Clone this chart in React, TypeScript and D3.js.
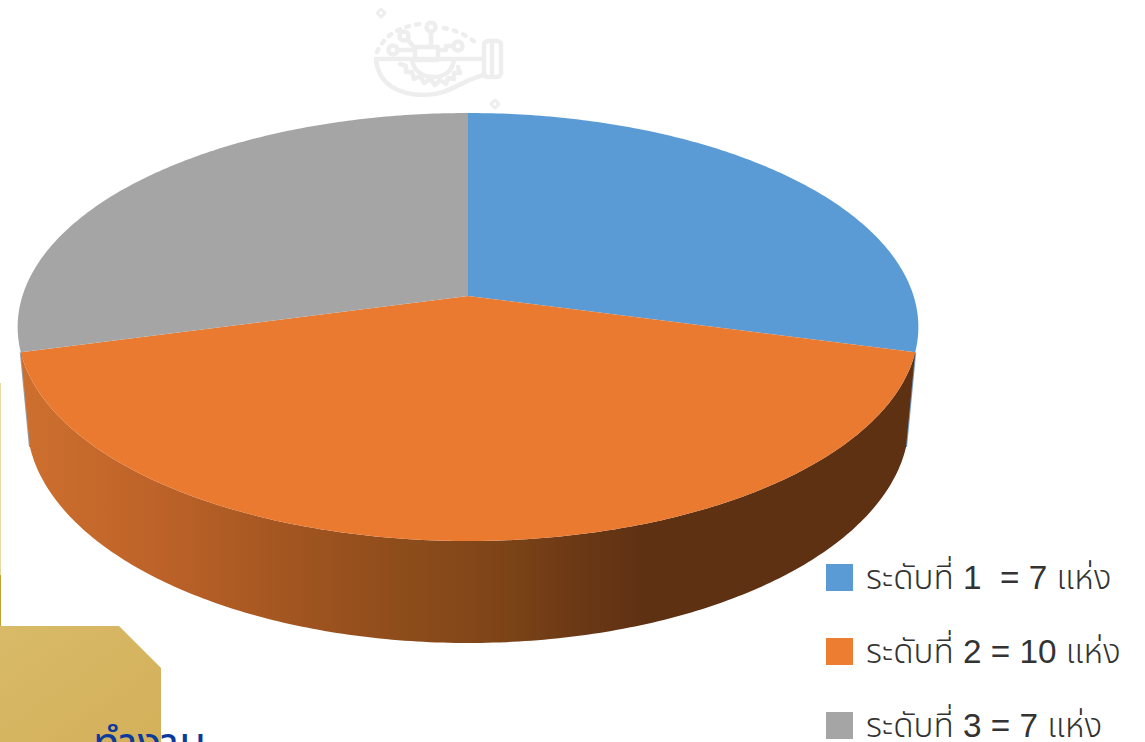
import React from "react";
import * as d3 from "d3";

const categories = ["ระดับที่ 1  = 7 แห่ง", "ระดับที่ 2 = 10 แห่ง", "ระดับที่ 3 = 7 แห่ง"];
const values = [7, 10, 7];
const topColors = ["#5b9bd5", "#ea7a30", "#a5a5a5"];
const legendColors = ["#5b9bd5", "#ed7d31", "#a5a5a5"];
const wallStops: [number, string][] = [
  [0, "#cc6f2e"], [0.14, "#be6329"], [0.23, "#ae5b24"], [0.37, "#96501d"], [0.53, "#7f4518"], [0.63, "#6a3815"], [0.7, "#5f3113"], [1, "#5f3113"],
];

const W = 1145, H = 742;
const cx = 468;
const apexY = 296;
const persp = 0.1449;
const topR = 445.6, topS = 209.5;
const botR = 436.5, botS = 217.6, botY = 388.5;

const project = (a: number, R: number, S: number, y0: number): [number, number] => {
  const u = Math.sin(a), v = -Math.cos(a), d = 1 - persp * v;
  return [cx + (R * u) / d, y0 + (S * v) / d];
};
const top = (a: number) => project(a, topR, topS, apexY);
const bot = (a: number) => project(a, botR, botS, botY);
const arcAngles = (a0: number, a1: number) => {
  const n = Math.max(2, Math.ceil((a1 - a0) * 80));
  return d3.range(n + 1).map((i) => a0 + ((a1 - a0) * i) / n);
};

export default function App() {
  const pie = d3.pie<number>().sort(null)(values);
  const line = d3.line();
  const slicePath = (s: d3.PieArcDatum<number>) =>
    line([[cx, apexY], ...arcAngles(s.startAngle, s.endAngle).map(top)])! + "Z";
  const orange = pie[1];
  const wall =
    line([...arcAngles(orange.startAngle, orange.endAngle).map(top), ...arcAngles(orange.startAngle, orange.endAngle).reverse().map(bot)])! + "Z";
  const edgeR = line([top(pie[0].endAngle), bot(pie[0].endAngle)])!;
  const edgeL = line([top(pie[2].startAngle), bot(pie[2].startAngle)])!;
  const legendY = d3.scalePoint<number>().domain([0, 1, 2]).range([577, 725]);
  const legendFont = "'Liberation Sans','Noto Sans Thai','Noto Sans',sans-serif";
  return (
    <svg width={W} height={H} viewBox={`0 0 ${W} ${H}`} style={{ position: "absolute", left: 0, top: 0, background: "#fff" }}>
      <defs>
        <linearGradient id="wall" gradientUnits="userSpaceOnUse" x1={29} x2={907} y1={0} y2={0}>
          {wallStops.map(([o, c]) => <stop key={o} offset={o} stopColor={c} />)}
        </linearGradient>
        <linearGradient id="gold" x1="0" y1="0" x2="1" y2="1">
          <stop offset="0" stopColor="#d8ba68" />
          <stop offset="1" stopColor="#d4b05a" />
        </linearGradient>
        <filter id="soft"><feGaussianBlur stdDeviation="0.5" /></filter>
      </defs>
      {/* backdrop of the slide */}
      <rect x={0} y={383} width={1} height={192} fill="#e8d8a2" />
      <rect x={0} y={575} width={1} height={57} fill="#c59f35" />
      <path d="M0 626H119L161 668V742H0Z" fill="url(#gold)" />
      <text x={93} y={759} fontFamily="'Noto Sans Thai','Noto Sans',sans-serif" fontSize={44} fill="#0b3a9c">ทำงาน</text>
      <g fill="none" stroke="#eeeeee" strokeWidth={4.5} strokeLinecap="round" strokeLinejoin="round" filter="url(#soft)">
        <path d="M376 59H483M376 59C378 84 398 95 425 95C450 95 465 78 485 75" />
        <path d="M412 60C414 72 424 77 433 77C444 77 452 72 454 60" />
        <path d="M400 64l6 2l0 6l6 0l2 7l6-3l4 7l6-4l5 6l5-5l6 4l2-6l6 1l0-6l6 0l-2-6" />
        <rect x={415} y={47} width={23} height={13} />
        <rect x={484} y={41} width={17} height={36} rx={4} />
        <line x1={492} y1={43} x2={492} y2={75} />
        <path d="M431 47V32M414 50H398M438 50H446V46H453M414 47L408 40" />
        <circle cx={431} cy={27} r={4.5} /><circle cx={393} cy={50} r={4.5} /><circle cx={458} cy={46} r={4.5} /><circle cx={404} cy={36} r={4.5} />
        <path d="M377 52C384 36 398 27 420 24M444 28C456 30 468 36 476 43" strokeDasharray="3 7" />
        <path d="M381 9l4 4l-4 4l-4-4ZM495 100l4 4l-4 4l-4-4Z" strokeWidth={3} />
      </g>
      {/* thin visible rims of the far wall */}
      <path d={edgeR} fill="none" stroke="#6f9cc8" strokeWidth={2} />
      <path d={edgeL} fill="none" stroke="#9a9da3" strokeWidth={2} />
      <path d={wall} fill="url(#wall)" />
      {pie.map((s, i) => <path key={i} d={slicePath(s)} fill={topColors[i]} />)}
      {categories.map((c, i) => (
        <g key={c}>
          <rect x={826} y={legendY(i)! - 13} width={27} height={27} fill={legendColors[i]} />
          <text x={866} y={legendY(i)! + 12} fontSize={33.3} fontWeight={300} fill="#333333" fontFamily={legendFont} style={{ whiteSpace: "pre" }}>{c}</text>
        </g>
      ))}
    </svg>
  );
}
